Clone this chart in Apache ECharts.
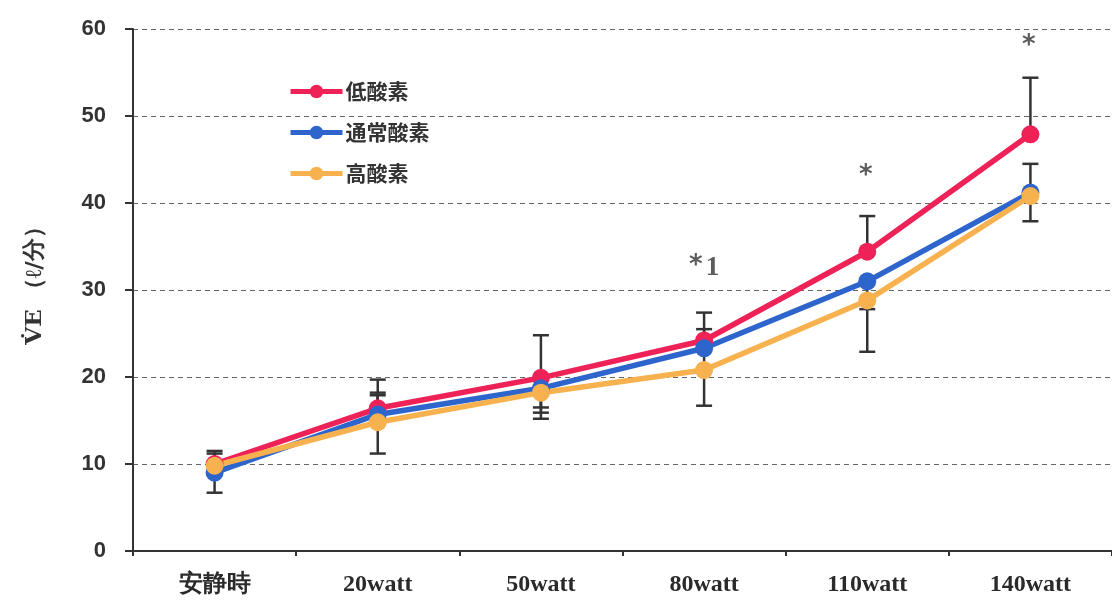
<!DOCTYPE html>
<html>
<head>
<meta charset="utf-8">
<script src="https://cdn.jsdelivr.net/npm/echarts@6/dist/echarts.min.js"></script>
<style>
  html, body { margin: 0; padding: 0; background: #fff; }
  #chart { width: 1112px; height: 605px; }
</style>
</head>
<body>
<div id="chart"></div>
<script>
// Stages of the exercise test
const categories = ['安静時', '20watt', '50watt', '80watt', '110watt', '140watt'];

// Minute ventilation (l/min) for each oxygen condition
const hypoxia = [10.0, 16.4, 19.9, 24.2, 34.4, 47.9];   // 低酸素
const normoxia = [9.0, 15.7, 18.7, 23.3, 31.0, 41.2];   // 通常酸素
const hyperoxia = [9.8, 14.8, 18.2, 20.8, 28.8, 40.8];  // 高酸素

// Error bars: [category index, lower end, upper end]
const errorBars = [
  [0, 6.7, 11.5], [0, 9.4, 11.2],
  [1, 11.2, 19.7], [1, 15.8, 18.2], [1, 14.9, 17.9],
  [2, 15.2, 24.8], [2, 16.5, 19.9], [2, 15.9, 18.7],
  [3, 16.7, 20.8], [3, 21.0, 27.4], [3, 23.3, 25.5],
  [4, 22.9, 28.8], [4, 34.4, 38.5], [4, 27.8, 31.0],
  [5, 37.9, 44.5], [5, 47.9, 54.4]
];

// Significance marks: [category index, value, footnote number]
const marks = [[3, 32.5, '1'], [4, 42.8, ''], [5, 57.8, '']];

// Y axis tick settings
const yMin = 0, yMax = 60, yStep = 10;

const colors = { hypoxia: '#EF2257', normoxia: '#2D65CD', hyperoxia: '#F7B14F' };

const chart = echarts.init(document.getElementById('chart'));

function lineSeries(name, data, color) {
  return {
    name: name,
    type: 'line',
    data: data,
    z: 3,
    symbol: 'circle',
    symbolSize: 18,
    lineStyle: { color: color, width: 5.5 },
    itemStyle: { color: color },
    emphasis: { disabled: true }
  };
}

chart.setOption({
  animation: false,
  backgroundColor: '#ffffff',
  grid: { left: 133, right: -5, top: 29, bottom: 54, containLabel: false },
  legend: {
    orient: 'vertical',
    left: 283,
    top: 76,
    itemWidth: 52,
    itemHeight: 17,
    itemGap: 20,
    lineStyle: { width: 5 },
    data: ['低酸素', '通常酸素', '高酸素'],
    textStyle: {
      fontFamily: 'Noto Sans CJK JP',
      fontWeight: 'bold',
      fontSize: 21,
      color: '#333',
      padding: [0, 0, 0, -2]
    }
  },
  xAxis: {
    type: 'category',
    data: categories,
    boundaryGap: true,
    axisLine: { lineStyle: { color: '#333', width: 2 } },
    axisTick: { show: true, length: 5, lineStyle: { color: '#333', width: 2 } },
    axisLabel: {
      margin: 22,
      fontFamily: 'Liberation Serif',
      fontWeight: 'bold',
      fontSize: 24,
      color: '#2a2a2a'
    },
    splitLine: { show: false }
  },
  yAxis: {
    type: 'value',
    min: yMin,
    max: yMax,
    interval: yStep,
    name: 'V\u0307E （ℓ/分）',
    nameLocation: 'middle',
    nameGap: 86,
    nameRotate: 90,
    nameTextStyle: {
      fontFamily: 'DejaVu Serif',
      fontWeight: 'bold',
      fontSize: 23,
      color: '#333',
      padding: [0, 0, 0, 20]
    },
    axisLine: { show: true, lineStyle: { color: '#333', width: 2 } },
    axisTick: { show: true, length: 8, lineStyle: { color: '#333', width: 2 } },
    axisLabel: {
      margin: 27,
      fontFamily: 'Liberation Sans',
      fontWeight: 'bold',
      fontSize: 22,
      color: '#333'
    },
    splitLine: { show: true, lineStyle: { color: '#666', type: [5, 4], width: 1 } }
  },
  series: [
    {
      type: 'custom',
      name: 'errors',
      z: 2,
      silent: true,
      data: errorBars,
      renderItem: function (params, api) {
        const x = api.value(0);
        const lo = api.coord([x, api.value(1)]);
        const hi = api.coord([x, api.value(2)]);
        const w = 8;
        const style = { stroke: '#333', lineWidth: 2.5 };
        return {
          type: 'group',
          children: [
            { type: 'line', shape: { x1: lo[0], y1: lo[1], x2: hi[0], y2: hi[1] }, style: style },
            { type: 'line', shape: { x1: lo[0] - w, y1: lo[1], x2: lo[0] + w, y2: lo[1] }, style: style },
            { type: 'line', shape: { x1: hi[0] - w, y1: hi[1], x2: hi[0] + w, y2: hi[1] }, style: style }
          ]
        };
      }
    },
    lineSeries('低酸素', hypoxia, colors.hypoxia),
    lineSeries('通常酸素', normoxia, colors.normoxia),
    lineSeries('高酸素', hyperoxia, colors.hyperoxia),
    {
      type: 'scatter',
      name: 'marks',
      silent: true,
      symbolSize: 0,
      data: marks.map(m => ({
        value: [m[0], m[1]],
        label: { formatter: m[2] ? '{star|*}{num|' + m[2] + '}' : '{star|*}' }
      })),
      label: {
        show: true,
        position: 'inside',
        color: '#333',
        rich: {
          star: {
            fontFamily: 'DejaVu Sans',
            fontWeight: 'bold',
            fontSize: 26,
            color: '#333',
            padding: [0, 3, 4, 0]
          },
          num: {
            fontFamily: 'Liberation Serif',
            fontWeight: 'bold',
            fontSize: 27,
            color: '#333'
          }
        }
      }
    }
  ]
});
</script>
</body>
</html>
